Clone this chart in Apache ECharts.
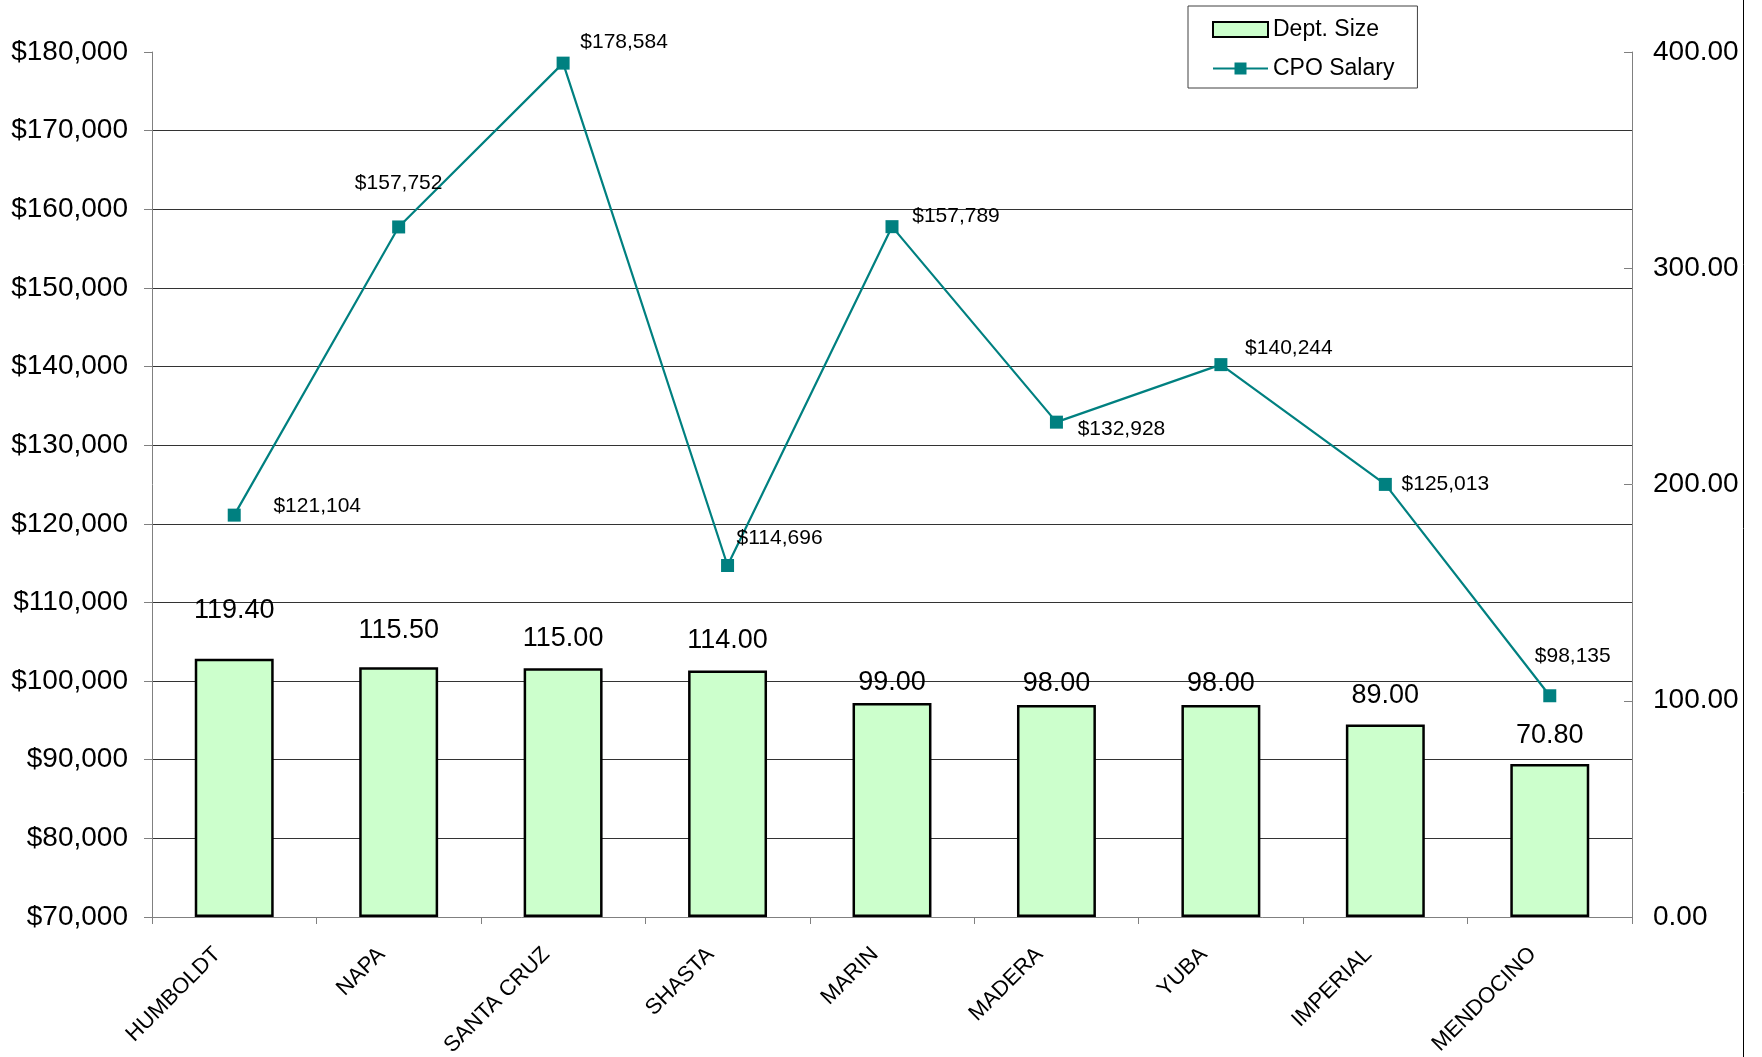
<!DOCTYPE html>
<html>
<head>
<meta charset="utf-8">
<title>Dept. Size vs CPO Salary</title>
<script src="https://cdn.jsdelivr.net/npm/echarts@6/dist/echarts.min.js"></script>
<style>
  html, body { margin: 0; padding: 0; background: #fff; }
  #chart { width: 1762px; height: 1057px; }
</style>
</head>
<body>
<div id="chart"></div>
<script>
    // data
    const counties = ["HUMBOLDT", "NAPA", "SANTA CRUZ", "SHASTA", "MARIN", "MADERA", "YUBA", "IMPERIAL", "MENDOCINO"];
    const deptSize = [119.40, 115.50, 115.00, 114.00, 99.00, 98.00, 98.00, 89.00, 70.80];
    const cpoSalary = [121104, 157752, 178584, 114696, 157789, 132928, 140244, 125013, 98135];

    // label nudges, so they sit where the original put them
    const salaryLabelShift = [[83, -9], [0, -44], [61, -21], [52, -27], [64, -10], [65, 7], [68, -16], [60, 0], [23, -40]];
    const sizeLabelShift = [-30, -18, -11, -11, -2, -3, -3, -10, -10];

    const FONT = "Liberation Sans, Arial, sans-serif";

    const chart = echarts.init(document.getElementById("chart"));

    const option = {
        animation: false,
        backgroundColor: "#fff",
        textStyle: { fontFamily: FONT, color: "#000" },
        grid: { left: 152, right: 130, top: 52, bottom: 140, outerBoundsMode: "none", containLabel: false },
        legend: {
            orient: "vertical",
            left: 1188,
            top: 6,
            padding: [12, 23, 8, 24],
            itemWidth: 55,
            itemHeight: 15,
            itemGap: 16,
            backgroundColor: "#fff",
            borderColor: "#404040",
            borderWidth: 1,
            borderRadius: 0,
            textStyle: { fontFamily: FONT, fontSize: 23, color: "#000" },
            data: [{ name: "Dept. Size", icon: "rect" }, { name: "CPO Salary" }]
        },
        xAxis: {
            type: "category",
            data: counties,
            axisLine: { lineStyle: { color: "#808080", width: 1 } },
            axisTick: { show: true, length: 7, lineStyle: { color: "#808080" } },
            axisLabel: {
                interval: 0,
                rotate: 45,
                margin: 17,
                padding: [0, 24, 0, 0],
                fontFamily: FONT,
                fontSize: 22,
                color: "#000"
            },
            splitLine: { show: false }
        },
        yAxis: [
            {
                type: "value",
                position: "left",
                min: 70000,
                max: 180000,
                interval: 10000,
                axisLine: { show: true, lineStyle: { color: "#808080" } },
                axisTick: { show: true, length: 8, lineStyle: { color: "#808080" } },
                axisLabel: {
                    margin: 24,
                    fontFamily: FONT,
                    fontSize: 28,
                    color: "#000",
                    formatter: v => "$" + v.toLocaleString("en-US")
                },
                splitLine: { show: true, showMinLine: false, showMaxLine: false, lineStyle: { color: "#333", width: 1 } }
            },
            {
                type: "value",
                position: "right",
                min: 0,
                max: 400,
                interval: 100,
                axisLine: { show: true, lineStyle: { color: "#808080" } },
                axisTick: { show: true, inside: true, length: 8, lineStyle: { color: "#808080" } },
                axisLabel: {
                    margin: 21,
                    fontFamily: FONT,
                    fontSize: 28,
                    color: "#000",
                    formatter: v => v.toFixed(2)
                },
                splitLine: { show: false }
            }
        ],
        series: [
            {
                name: "Dept. Size",
                type: "bar",
                yAxisIndex: 1,
                barWidth: "48%",
                itemStyle: { color: "#CCFFCC", borderColor: "#000", borderWidth: 2.5 },
                label: {
                    show: true,
                    position: "top",
                    distance: 5,
                    fontFamily: FONT,
                    fontSize: 27,
                    color: "#000",
                    formatter: p => p.value.toFixed(2)
                },
                data: deptSize.map((v, i) => ({ value: v, label: { offset: [0, sizeLabelShift[i]] } }))
            },
            {
                name: "CPO Salary",
                type: "line",
                yAxisIndex: 0,
                symbol: "rect",
                symbolSize: 13,
                lineStyle: { color: "#008080", width: 2.2 },
                itemStyle: { color: "#008080" },
                label: {
                    show: true,
                    position: "inside",
                    fontFamily: FONT,
                    fontSize: 21,
                    color: "#000",
                    formatter: p => "$" + p.value.toLocaleString("en-US")
                },
                data: cpoSalary.map((v, i) => ({ value: v, label: { offset: salaryLabelShift[i] } }))
            }
        ],
        graphic: [
            {
                type: "line",
                shape: { x1: 1743.5, y1: 0, x2: 1743.5, y2: 1057 },
                style: { stroke: "#000", lineWidth: 1 }
            }
        ]
    };

    chart.setOption(option);

    window.addEventListener("resize", function () {
        chart.resize();
    });
</script>
</body>
</html>
